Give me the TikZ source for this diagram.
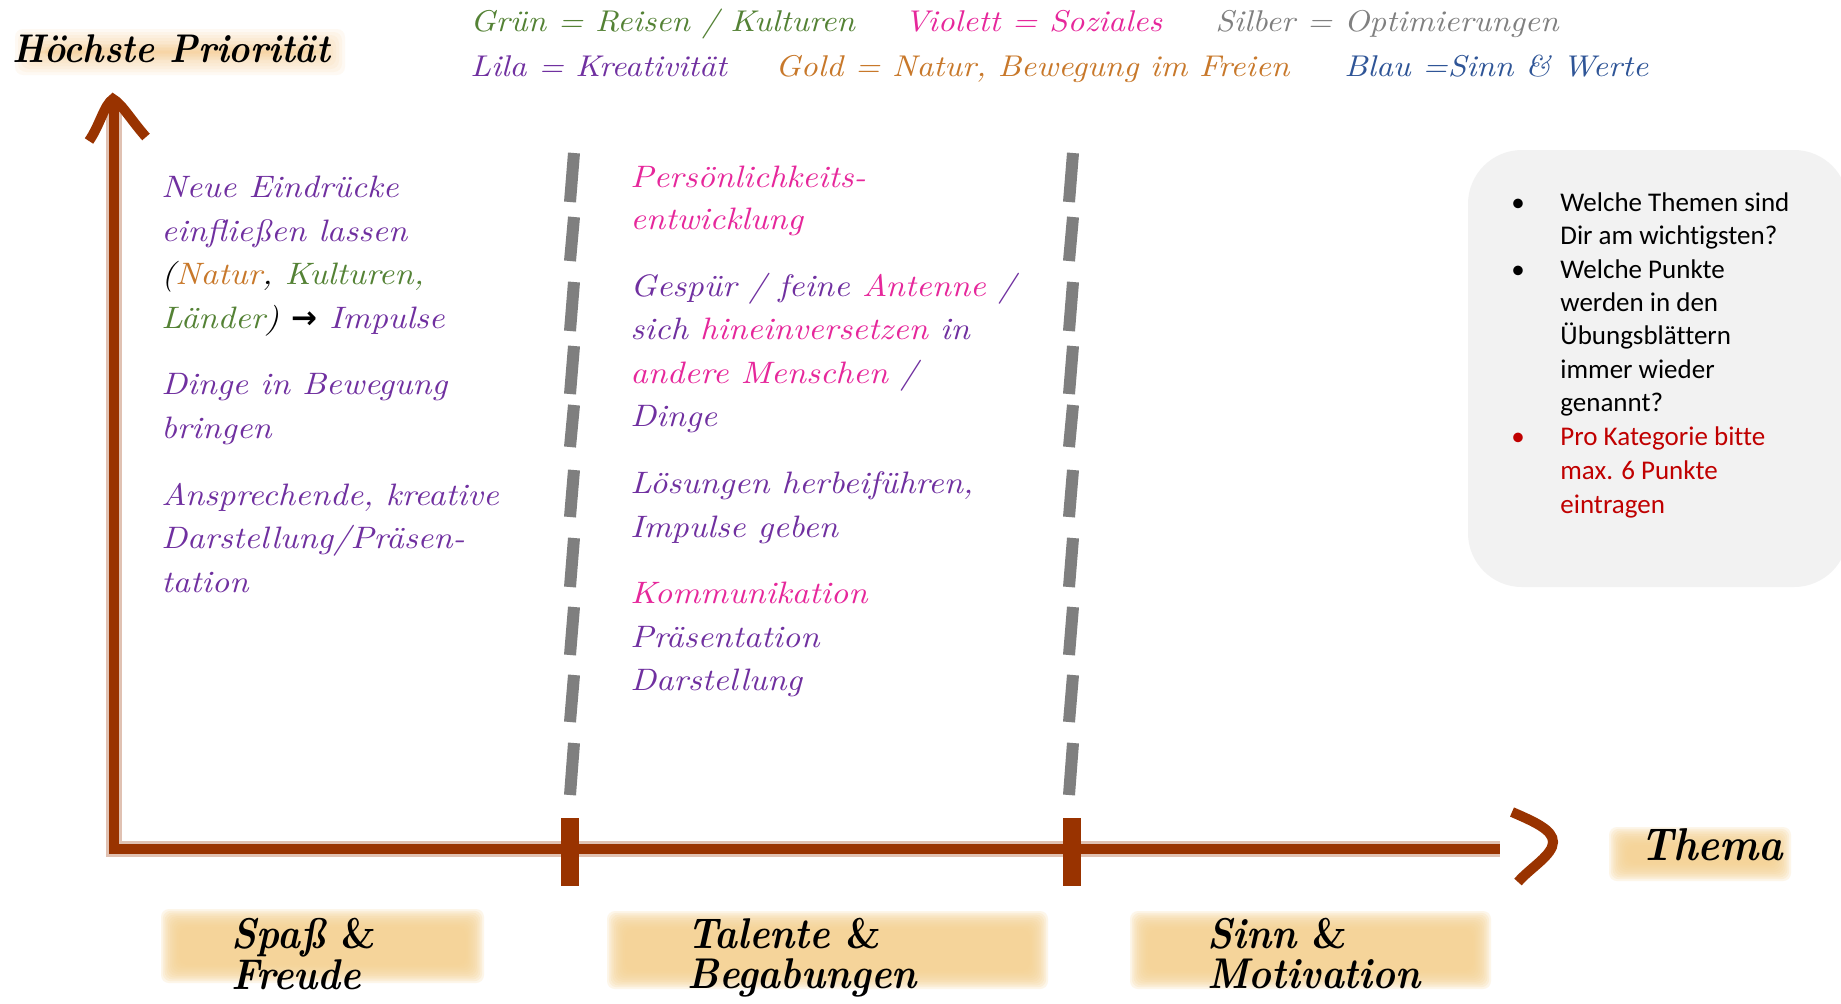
\documentclass[tikz,border=0pt]{standalone}
\usepackage{fontspec}
\newfontfamily\handfont{lmroman10-italic.otf}[FakeStretch=1.1]
\newfontfamily\brushfont{lmroman10-bolditalic.otf}[FakeStretch=0.9]
\newfontfamily\brushup{lmroman10-bold.otf}[FakeStretch=0.9]
\newfontfamily\calibri{Carlito}[Ligatures=NoCommon]
\newfontfamily\dejavu{DejaVu Sans}
\definecolor{lila}{HTML}{7030A0}
\definecolor{gruen}{HTML}{548235}
\definecolor{gold}{HTML}{C8782A}
\definecolor{violett}{HTML}{E6279B}
\definecolor{silber}{HTML}{808080}
\definecolor{blau}{HTML}{2F5597}
\definecolor{rot}{HTML}{C00000}
\definecolor{axisbrown}{HTML}{993300}
\definecolor{dashgray}{HTML}{7F7F7F}
\definecolor{boxgray}{HTML}{F2F2F2}
\definecolor{glowcore}{HTML}{F5D292}
\definecolor{glowtitle}{HTML}{F7BE70}
% soft glow rectangle: colour, x1, y1, x2, y2, step, opacity
\newcommand\glowbox[7]{%
  \foreach \k in {-5,...,5}{\fill[#1, opacity=#7, rounded corners=4pt] (#2-\k*#6,#3-\k*#6) rectangle (#4+\k*#6,#5+\k*#6);}}
\begin{document}
\begin{tikzpicture}[x=0.5pt,y=-0.5pt,
  hand/.style={font=\handfont\fontsize{15.5}{20}\selectfont, anchor=base west, inner sep=0pt, text=lila},
  legend/.style={font=\handfont\fontsize{15}{20}\selectfont, anchor=base west, inner sep=0pt},
  brush/.style={font=\brushfont\fontsize{21.5}{21.5}\selectfont, anchor=base west, inner sep=0pt, text=black},
  boxtxt/.style={font=\calibri\fontsize{13.5}{16.8}\selectfont, anchor=base west, inner sep=0pt, text=black},
  bullet/.style={font=\calibri\fontsize{13.5}{16.8}\selectfont, anchor=base, inner sep=0pt},
  axisline/.style={draw=axisbrown, line width=5pt},
  axisglow/.style={draw=axisbrown, line width=8pt, opacity=.3},
  dashseg/.style={draw=dashgray, line width=6pt},
  tickbar/.style={fill=axisbrown}]
\useasboundingbox (0,0) rectangle (1841,1003);
\fill[white] (0,0) rectangle (1841,1003);

% title
\glowbox{glowtitle}{30}{44}{330}{60}{3}{.08}
\node[brush, font=\brushfont\fontsize{20}{20}\selectfont] (title) at (12,62) {Höchste Priorität};

% legend
\node[legend, text=gruen] (lg1) at (470,31) {Grün = Reisen / Kulturen};
\node[legend, text=violett] (lg2) at (904,31) {Violett = Soziales};
\node[legend, text=silber] (lg3) at (1215,31) {Silber = Optimierungen};
\node[legend, text=lila] (lg4) at (470,76) {Lila = Kreativität};
\node[legend, text=gold] (lg5) at (775,76) {Gold = Natur, Bewegung im Freien};
\node[legend, text=blau] (lg6) at (1344,76) {Blau =Sinn \& Werte};

% info box
\fill[boxgray, rounded corners=27pt] (1468,150) rectangle (1848,587);
\node[bullet] (b1) at (1518,211) {•};
\node[bullet] (b2) at (1518,278) {•};
\node[bullet, text=rot] (b3) at (1518,445) {•};
\node[boxtxt] (t1) at (1560,211) {Welche Themen sind};
\node[boxtxt] (t2) at (1560,244) {Dir am wichtigsten?};
\node[boxtxt] (t3) at (1560,278) {Welche Punkte};
\node[boxtxt] (t4) at (1560,311) {werden in den};
\node[boxtxt] (t5) at (1560,344) {Übungsblättern};
\node[boxtxt] (t6) at (1560,378) {immer wieder};
\node[boxtxt] (t7) at (1560,411) {genannt?};
\node[boxtxt, text=rot] (t8) at (1560,445) {Pro Kategorie bitte};
\node[boxtxt, text=rot] (t9) at (1560,479) {max. 6 Punkte};
\node[boxtxt, text=rot] (t10) at (1560,513) {eintragen};

% dashed separators
\foreach \a/\b in {153/202,217/261,282/331,346/394,405/447,470/517,538/587,607/655,675/722,743/795}{
  \draw[dashseg] (574,\a) -- (570,\b);
  \draw[dashseg] (1073,\a) -- (1069,\b);
}

% axes
\coordinate (ytop) at (114,100);
\coordinate (origin) at (114,849);
\coordinate (xend) at (1500,849);
\draw[axisglow] (ytop) -- (origin) -- (xend);
\draw[axisline] (ytop) -- (origin) -- (xend);
\draw[axisline] (89,141) .. controls (100,125) and (104,105) .. (113,99) .. controls (122,104) and (131,120) .. (146,137);
\draw[axisline] (1512,812) .. controls (1535,822) and (1553,830) .. (1553,842) .. controls (1553,855) and (1530,868) .. (1518,882);
\fill[tickbar] (561,818) rectangle (579,886);
\fill[tickbar] (1063,818) rectangle (1081,886);

% column 1
\node[hand] (a1) at (161,197) {Neue Eindrücke};
\node[hand] (a2) at (161,241) {einfließen lassen};
\node[hand] (a3) at (161,284) {{\color{black}(}{\color{gold}Natur}{\color{black},} {\color{gruen}Kulturen,}};
\node[hand] (a4) at (161,328) {{\color{gruen}Länder}{\color{black})} {\dejavu\bfseries\color{black}→} Impulse};
\node[hand] (a5) at (161,394) {Dinge in Bewegung};
\node[hand] (a6) at (161,438) {bringen};
\node[hand] (a7) at (161,505) {Ansprechende, kreative};
\node[hand] (a8) at (161,548) {Darstellung/Präsen-};
\node[hand] (a9) at (161,592) {tation};

% column 2
\node[hand, text=violett] (m1) at (630,187) {Persönlichkeits-};
\node[hand, text=violett] (m2) at (630,229) {entwicklung};
\node[hand] (m3) at (630,296) {Gespür / feine {\color{violett}Antenne} /};
\node[hand] (m4) at (630,339) {sich {\color{violett}hineinversetzen} in};
\node[hand] (m5) at (630,383) {{\color{violett}andere Menschen} /};
\node[hand] (m6) at (630,426) {Dinge};
\node[hand] (m7) at (630,493) {Lösungen herbeiführen,};
\node[hand] (m8) at (630,537) {Impulse geben};
\node[hand, text=violett] (m9) at (630,603) {Kommunikation};
\node[hand] (m10) at (630,647) {Präsentation};
\node[hand] (m11) at (630,690) {Darstellung};

% bottom labels
\glowbox{glowcore}{170}{918}{475}{974}{1.8}{.2}
\glowbox{glowcore}{616}{920}{1039}{980}{1.8}{.2}
\glowbox{glowcore}{1139}{920}{1482}{980}{1.8}{.2}
\glowbox{glowcore}{1618}{836}{1782}{872}{1.8}{.2}
\node[brush] (s1) at (231,948) {Spaß {\brushup\&}};
\node[brush] (s2) at (231,989) {Freude};
\node[brush] (tb1) at (687,948) {Talente {\brushup\&}};
\node[brush] (tb2) at (687,988) {Begabungen};
\node[brush] (sm1) at (1207,948) {Sinn {\brushup\&}};
\node[brush] (sm2) at (1207,988) {Motivation};
\node[brush, font=\brushfont\fontsize{23}{23}\selectfont] (thema) at (1640,860) {Thema};
\end{tikzpicture}
\end{document}
